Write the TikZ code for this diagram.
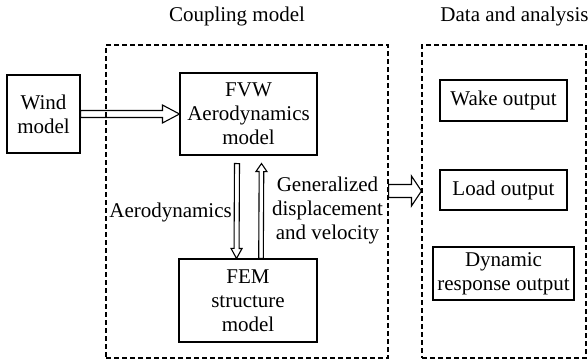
\documentclass[tikz,border=0pt]{standalone}
\usepackage{fontspec}
\setmainfont{Liberation Serif}
\usetikzlibrary{calc}

% Hollow block arrow drawn from the start point to the target point.
% Keys: shaft half width, head half width, head length.
\tikzset{
  shaftw/.store in=\shaftw, shaftw=3pt,
  headw/.store in=\headw, headw=9pt,
  headl/.store in=\headl, headl=16pt,
  blockarrow/.style={draw, line width=1.1pt, line join=miter,
    to path={
      let \p1=(\tikztostart), \p2=(\tikztotarget),
          \p3=($(\p2)!\headl!(\p1)$) in
      ($(\p1)!\shaftw!90:(\p2)$) --
      ($(\p3)!\shaftw!-90:(\p1)$) --
      ($(\p3)!\headw!-90:(\p1)$) --
      (\p2) --
      ($(\p3)!\headw!90:(\p1)$) --
      ($(\p3)!\shaftw!90:(\p1)$) --
      ($(\p1)!\shaftw!-90:(\p2)$) -- cycle
    }},
  box/.style={draw, line width=1.1pt, inner sep=0pt, align=center,
    font=\fontsize{21}{24}\selectfont},
  frame/.style={draw, dashed, dash pattern=on 5pt off 3pt, line width=1.1pt,
    inner sep=0pt},
  txt/.style={inner sep=0pt, align=center,
    font=\fontsize{21}{24}\selectfont}
}

\begin{document}
\begin{tikzpicture}[x=1pt, y=-1pt]
  \useasboundingbox (0,0) rectangle (588,361);

  % group frames and their titles
  \node[frame, minimum width=282pt, minimum height=313pt] (cpl) at (247,201.5) {};
  \node[frame, minimum width=164pt, minimum height=313pt] (data) at (504,201.5) {};
  \node[txt] (cpltitle) at (237,16) {Coupling model};
  \node[txt] (datatitle) at (514.5,16) {Data and analysis};

  % model blocks
  \node[box, minimum width=73pt, minimum height=78pt] (wind) at (43.5,114) {Wind\\model};
  \node[box, minimum width=137pt, minimum height=82pt] (fvw) at (248.5,114) {FVW\\Aerodynamics\\model};
  \node[box, minimum width=138pt, minimum height=83pt] (fem) at (248,300.5) {FEM\\structure\\model};

  % output blocks
  \node[box, minimum width=127pt, minimum height=41pt] (wake) at (503.5,100.5) {Wake output};
  \node[box, minimum width=127pt, minimum height=40pt] (load) at (503.5,190) {Load output};
  \node[box, minimum width=141pt, minimum height=53pt] (dyn) at (503.5,273.5) {Dynamic\\response output};

  % exchanged quantities
  \node[txt, anchor=east] (aero) at (232,212) {Aerodynamics};
  \node[txt] (gen) at (327.5,210) {Generalized\\displacement\\and velocity};

  % connectors (shifts are in canvas direction: positive yshift is upward)
  \draw[blockarrow, shaftw=3.5pt, headw=9pt, headl=17pt]
    (wind.east) to (fvw.west);
  \draw[blockarrow, shaftw=2.5pt, headw=5.5pt, headl=10pt]
    ([xshift=-11.5pt, yshift=-8pt]fvw.south) to ([xshift=-11.5pt]fem.north);
  \draw[blockarrow, shaftw=2.3pt, headw=5.5pt, headl=8pt]
    ([xshift=13pt]fem.north) to ([xshift=13pt, yshift=-8pt]fvw.south);
  \draw[blockarrow, shaftw=6.5pt, headw=15pt, headl=10pt]
    ([yshift=10.5pt]cpl.east) to ([yshift=10.5pt]data.west);
\end{tikzpicture}
\end{document}
